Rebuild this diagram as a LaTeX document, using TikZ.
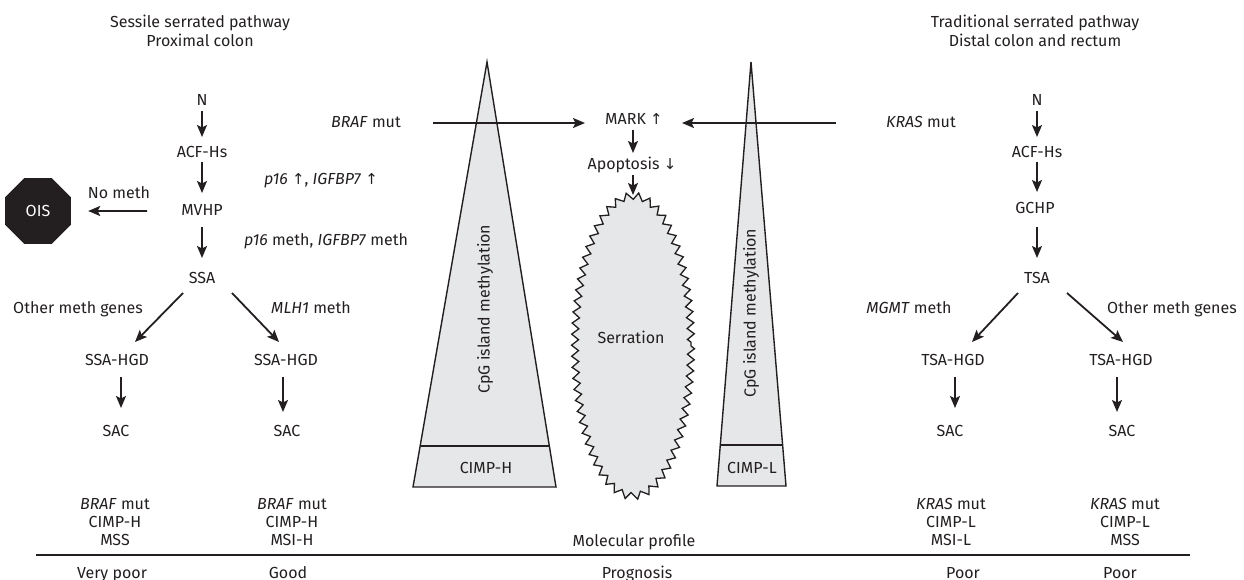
\documentclass[tikz,border=0pt]{standalone}
\usepackage{fontspec}
\setmainfont{Fira Sans}
\newfontfamily\symfont{DejaVu Sans}
\usetikzlibrary{arrows.meta,shapes.geometric,decorations.pathmorphing,calc}
\definecolor{ink}{HTML}{231F20}
\definecolor{lgray}{HTML}{E6E7E8}
\newcommand{\uparr}{{\symfont\fontsize{15}{17}\selectfont ↑}}
\newcommand{\dnarr}{{\symfont\fontsize{15}{17}\selectfont ↓}}
\begin{document}
\begin{tikzpicture}[x=1pt,y=-1pt,
  font=\fontsize{16}{19}\selectfont, color=ink, text=ink,
  txt/.style={anchor=base, inner sep=0pt},
  arr/.style={-{Stealth[length=12pt,width=10pt,inset=2.5pt]}, line width=1.8pt},
  shape outline/.style={line width=1.4pt, line join=miter},
  ]
\useasboundingbox (0,0) rectangle (1244,580);

% ---------- titles ----------
\node[txt] (tl1) at (200,28) {Sessile serrated pathway};
\node[txt] (tl2) at (200,47) {Proximal colon};
\node[txt] (tr1) at (1035,28) {Traditional serrated pathway};
\node[txt] (tr2) at (1035,47) {Distal colon and rectum};

% ---------- left chain ----------
\node[txt] (ln) at (202,106) {N};
\node[txt] (lacf) at (202,158) {ACF-Hs};
\node[txt] (mvhp) at (202,215) {MVHP};
\node[txt] (ssa) at (202,283) {SSA};
\node[txt] (hgdL) at (117,365) {SSA-HGD};
\node[txt] (hgdR) at (286,365) {SSA-HGD};
\node[txt] (sacL) at (116,436) {SAC};
\node[txt] (sacR) at (287,436) {SAC};

\node[regular polygon, regular polygon sides=8, minimum size=71.4pt, inner sep=0pt,
      fill=ink, text=white] (ois) at (38,211) {OIS};
\node[txt] (nometh) at (119,199) {No meth};
\node[txt] (p16up) at (321,185) {\textit{p16} \uparr, \textit{IGFBP7} \uparr};
\node[txt] (p16m) at (326,245) {\textit{p16} meth, \textit{IGFBP7} meth};
\node[txt] (othL) at (78,313) {Other meth genes};
\node[txt] (mlh) at (311,313) {\textit{MLH1} meth};

\draw[arr] ([shift={(0,5)}]ln.base) -- ([shift={(0,-21)}]lacf.base);
\draw[arr] ([shift={(0,4)}]lacf.base) -- ([shift={(0,-22)}]mvhp.base);
\draw[arr] ([shift={(0,12)}]mvhp.base) -- ([shift={(0,-25)}]ssa.base);
\draw[arr] ([shift={(-55,-4)}]mvhp.base) -- ([xshift=17pt]ois.east);
\draw[arr] ([shift={(-19,10)}]ssa.base) -- ([shift={(18,-23)}]hgdL.base);
\draw[arr] ([shift={(30,10)}]ssa.base) -- ([shift={(-7,-23)}]hgdR.base);
\draw[arr] ([shift={(4,12)}]hgdL.base) -- ([shift={(5,-28)}]sacL.base);
\draw[arr] ([shift={(-3,12)}]hgdR.base) -- ([shift={(-4,-24)}]sacR.base);

% ---------- right chain ----------
\node[txt] (rn) at (1037,106) {N};
\node[txt] (racf) at (1037,158) {ACF-Hs};
\node[txt] (gchp) at (1035,213) {GCHP};
\node[txt] (tsa) at (1037,283) {TSA};
\node[txt] (thgdL) at (953,365) {TSA-HGD};
\node[txt] (thgdR) at (1121,365) {TSA-HGD};
\node[txt] (tsacL) at (950,436) {SAC};
\node[txt] (tsacR) at (1122,436) {SAC};
\node[txt] (mgmt) at (909,313) {\textit{MGMT} meth};
\node[txt] (othR) at (1172,313) {Other meth genes};

\draw[arr] ([shift={(0,5)}]rn.base) -- ([shift={(0,-21)}]racf.base);
\draw[arr] ([shift={(0,4)}]racf.base) -- ([shift={(2,-21)}]gchp.base);
\draw[arr] ([shift={(2,14)}]gchp.base) -- ([shift={(0,-25)}]tsa.base);
\draw[arr] ([shift={(-19,10)}]tsa.base) -- ([shift={(19,-23)}]thgdL.base);
\draw[arr] ([shift={(30,10)}]tsa.base) -- ([shift={(2,-23)}]thgdR.base);
\draw[arr] ([shift={(2,12)}]thgdL.base) -- ([shift={(5,-28)}]tsacL.base);
\draw[arr] ([shift={(-4,12)}]thgdR.base) -- ([shift={(-5,-24)}]tsacR.base);

% ---------- triangles ----------
\coordinate (la) at (487,62);
\coordinate (lbl) at (413,487);
\coordinate (lbr) at (556,487);
\filldraw[fill=lgray, shape outline] (la) -- (lbr) -- (lbl) -- cycle;
\draw[line width=1.6pt] ($(la)!0.9035!(lbl)$) -- ($(la)!0.9035!(lbr)$);
\node[rotate=90, inner sep=0pt] (lcpg) at (485,309) {CpG island methylation};
\node[txt] (cimph) at (486,473) {CIMP-H};

\coordinate (ra) at (751,62);
\coordinate (rbl) at (717,486);
\coordinate (rbr) at (786,486);
\filldraw[fill=lgray, shape outline] (ra) -- (rbr) -- (rbl) -- cycle;
\draw[line width=1.6pt] ($(ra)!0.9033!(rbl)$) -- ($(ra)!0.9033!(rbr)$);
\node[rotate=90, inner sep=0pt] (rcpg) at (751,313) {CpG island methylation};
\node[txt] (cimpl) at (752,473) {CIMP-L};

% ---------- centre ----------
\filldraw[fill=lgray, line width=1.3pt, line join=miter,
  decorate, decoration={zigzag, segment length=11pt, amplitude=3.5pt}]
  (633,346) ellipse [x radius=58, y radius=150];
\coordinate (sertop) at (633,195);
\node[txt] (serr) at (631,343) {Serration};

\node[txt] (braf) at (366,128) {\textit{BRAF} mut};
\node[txt] (kras) at (921,128) {\textit{KRAS} mut};
\node[txt] (mark) at (634,125) {MARK \uparr};
\node[txt] (apop) at (632,170) {Apoptosis \dnarr};

\draw[arr] ([shift={(67,-5)}]braf.base) -- ([shift={(-49,-2)}]mark.base);
\draw[arr] ([shift={(-85,-5)}]kras.base) -- ([shift={(48,-2)}]mark.base);
\draw[arr] ([shift={(-1,5)}]mark.base) -- ([shift={(1,-17)}]apop.base);
\draw[arr] ([shift={(1,5)}]apop.base) -- (sertop);

% ---------- bottom ----------
\node[txt] (b1a) at (115,509) {\textit{BRAF} mut};
\node[txt] (b1b) at (115,527) {CIMP-H};
\node[txt] (b1c) at (115,545) {MSS};
\node[txt] (b2a) at (292,509) {\textit{BRAF} mut};
\node[txt] (b2b) at (292,527) {CIMP-H};
\node[txt] (b2c) at (292,545) {MSI-H};
\node[txt] (b3a) at (951,509) {\textit{KRAS} mut};
\node[txt] (b3b) at (951,527) {CIMP-L};
\node[txt] (b3c) at (951,545) {MSI-L};
\node[txt] (b4a) at (1125,509) {\textit{KRAS} mut};
\node[txt] (b4b) at (1125,527) {CIMP-L};
\node[txt] (b4c) at (1125,545) {MSS};
\node[txt] (molp) at (634,546) {Molecular profile};

\coordinate (ruleL) at (36,555);
\coordinate (ruleR) at (1190,555);
\draw[line width=2.2pt] (ruleL) -- (ruleR);

\node[txt] (p1) at (112,578) {Very poor};
\node[txt] (p2) at (288,578) {Good};
\node[txt] (p3) at (637,578) {Prognosis};
\node[txt] (p4) at (963,578) {Poor};
\node[txt] (p5) at (1120,578) {Poor};
\end{tikzpicture}
\end{document}
